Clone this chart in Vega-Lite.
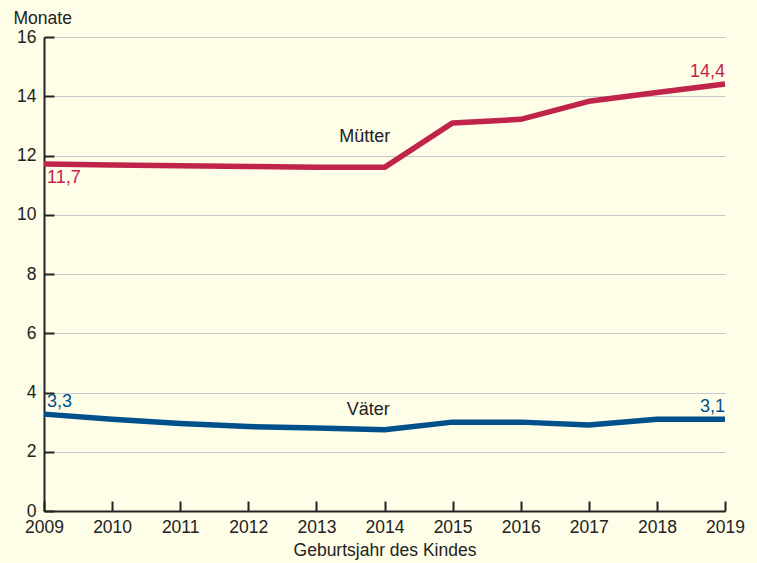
{
  "$schema": "https://vega.github.io/schema/vega-lite/v6.json",
  "width": 681,
  "height": 474,
  "autosize": {"type": "none"},
  "padding": {"left": 44, "top": 37, "right": 32, "bottom": 52},
  "background": "#fefde8",
  "config": {
    "view": {"stroke": null},
    "font": "Liberation Sans",
    "axis": {
      "labelFont": "Liberation Sans",
      "titleFont": "Liberation Sans",
      "labelFontSize": 17.5,
      "titleFontSize": 17.5,
      "labelColor": "#222222",
      "titleColor": "#222222",
      "titleFontWeight": "normal",
      "domainColor": "#222222",
      "tickColor": "#222222",
      "domainWidth": 2,
      "tickWidth": 2,
      "labelFlush": false,
      "labelOverlap": false
    }
  },
  "datasets": {
    "series": [
      {"jahr": 2009, "wert": 11.71, "gruppe": "Mütter"},
      {"jahr": 2010, "wert": 11.68, "gruppe": "Mütter"},
      {"jahr": 2011, "wert": 11.65, "gruppe": "Mütter"},
      {"jahr": 2012, "wert": 11.63, "gruppe": "Mütter"},
      {"jahr": 2013, "wert": 11.6, "gruppe": "Mütter"},
      {"jahr": 2014, "wert": 11.6, "gruppe": "Mütter"},
      {"jahr": 2015, "wert": 13.1, "gruppe": "Mütter"},
      {"jahr": 2016, "wert": 13.22, "gruppe": "Mütter"},
      {"jahr": 2017, "wert": 13.83, "gruppe": "Mütter"},
      {"jahr": 2018, "wert": 14.13, "gruppe": "Mütter"},
      {"jahr": 2019, "wert": 14.41, "gruppe": "Mütter"},
      {"jahr": 2009, "wert": 3.27, "gruppe": "Väter"},
      {"jahr": 2010, "wert": 3.1, "gruppe": "Väter"},
      {"jahr": 2011, "wert": 2.95, "gruppe": "Väter"},
      {"jahr": 2012, "wert": 2.85, "gruppe": "Väter"},
      {"jahr": 2013, "wert": 2.8, "gruppe": "Väter"},
      {"jahr": 2014, "wert": 2.74, "gruppe": "Väter"},
      {"jahr": 2015, "wert": 3.0, "gruppe": "Väter"},
      {"jahr": 2016, "wert": 3.0, "gruppe": "Väter"},
      {"jahr": 2017, "wert": 2.9, "gruppe": "Väter"},
      {"jahr": 2018, "wert": 3.1, "gruppe": "Väter"},
      {"jahr": 2019, "wert": 3.1, "gruppe": "Väter"}
    ]
  },
  "layer": [
    {
      "data": {"name": "series"},
      "mark": {"type": "line", "strokeWidth": 5.5, "strokeJoin": "round"},
      "encoding": {
        "x": {
          "field": "jahr", "type": "quantitative",
          "scale": {"domain": [2009, 2019], "nice": false, "zero": false},
          "axis": {
            "values": [2009, 2010, 2011, 2012, 2013, 2014, 2015, 2016, 2017, 2018, 2019],
            "format": "d", "grid": false, "tickSize": -10, "labelPadding": 17,
            "title": "Geburtsjahr des Kindes", "titlePadding": 6
          }
        },
        "y": {
          "field": "wert", "type": "quantitative",
          "scale": {"domain": [0, 16], "nice": false},
          "axis": {
            "values": [0, 2, 4, 6, 8, 10, 12, 14, 16],
            "grid": true, "gridColor": "#c8c8c8", "gridWidth": 1.2,
            "tickSize": -10, "labelPadding": 18,
            "title": "Monate", "titleAngle": 0, "titleAlign": "left",
            "titleBaseline": "alphabetic", "titleX": -31, "titleY": -14
          }
        },
        "color": {
          "field": "gruppe", "type": "nominal",
          "scale": {"domain": ["Mütter", "Väter"], "range": ["#c0244a", "#00508c"]},
          "legend": null
        }
      }
    },
    {
      "data": {"values": [
        {"jahr": 2013.71, "wert": 12.62, "text": "Mütter"},
        {"jahr": 2013.76, "wert": 3.41, "text": "Väter"}
      ]},
      "mark": {"type": "text", "fontSize": 18, "color": "#222222", "align": "center", "baseline": "middle"},
      "encoding": {
        "x": {"field": "jahr", "type": "quantitative"},
        "y": {"field": "wert", "type": "quantitative"},
        "text": {"field": "text"}
      }
    },
    {
      "data": {"values": [
        {"jahr": 2009, "wert": 11.71, "text": "11,7", "gruppe": "Mütter"}
      ]},
      "mark": {"type": "text", "fontSize": 18, "align": "left", "baseline": "top", "dx": 3, "dy": 5},
      "encoding": {
        "x": {"field": "jahr", "type": "quantitative"},
        "y": {"field": "wert", "type": "quantitative"},
        "text": {"field": "text"},
        "color": {"field": "gruppe", "type": "nominal", "legend": null}
      }
    },
    {
      "data": {"values": [
        {"jahr": 2009, "wert": 3.27, "text": "3,3", "gruppe": "Väter"}
      ]},
      "mark": {"type": "text", "fontSize": 18, "align": "left", "baseline": "bottom", "dx": 3, "dy": -3},
      "encoding": {
        "x": {"field": "jahr", "type": "quantitative"},
        "y": {"field": "wert", "type": "quantitative"},
        "text": {"field": "text"},
        "color": {"field": "gruppe", "type": "nominal", "legend": null}
      }
    },
    {
      "data": {"values": [
        {"jahr": 2019, "wert": 14.41, "text": "14,4", "gruppe": "Mütter"},
        {"jahr": 2019, "wert": 3.1, "text": "3,1", "gruppe": "Väter"}
      ]},
      "mark": {"type": "text", "fontSize": 18, "align": "right", "baseline": "bottom", "dx": 0, "dy": -3},
      "encoding": {
        "x": {"field": "jahr", "type": "quantitative"},
        "y": {"field": "wert", "type": "quantitative"},
        "text": {"field": "text"},
        "color": {"field": "gruppe", "type": "nominal", "legend": null}
      }
    }
  ]
}
